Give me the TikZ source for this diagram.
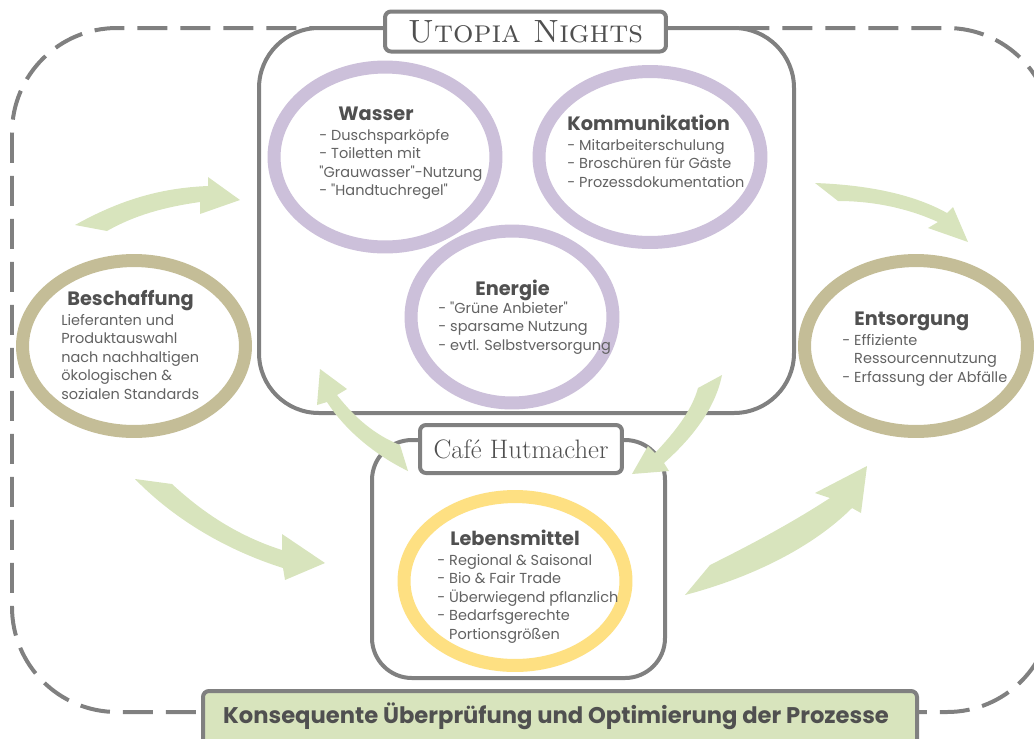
\documentclass[tikz,border=0pt]{standalone}
\usepackage{fontspec}
\newfontfamily\gothic{Poppins}
\usetikzlibrary{shapes.geometric}
\definecolor{rahmengrau}{RGB}{128,128,128}
\definecolor{lavendel}{RGB}{204,192,218}
\definecolor{khaki}{RGB}{196,189,151}
\definecolor{gelb}{RGB}{254,224,130}
\definecolor{pfeilgruen}{RGB}{216,228,189}
\definecolor{titelgrau}{RGB}{80,80,80}
\definecolor{textgrau}{RGB}{98,98,98}
\newcommand{\punkte}[4]{% {name}{x}{y}{zeilen}
	\foreach \zeile [count=\n] in {#4}
		\node[punkt, anchor=base west] (#1-\n) at (#2, {#3+18.5*(\n-1)}) {\zeile};
}
\begin{document}
\begin{tikzpicture}[x=0.02cm, y=-0.02cm,
	rahmen/.style={draw=rahmengrau, line width=0.08cm},
	ring/.style={ellipse, draw=#1, line width=0.26cm, inner sep=0pt},
	kasten/.style={rahmen, fill=white, rounded corners=0.12cm, inner sep=0pt, text=titelgrau},
	titel/.style={anchor=base west, inner sep=0pt, text=titelgrau, font=\gothic\bfseries\fontsize{11}{13}\selectfont},
	punkt/.style={inner sep=0pt, text=textgrau, font=\gothic\fontsize{8.25}{10}\selectfont},
	pfeil/.style={fill=pfeilgruen, draw=none}]

	\useasboundingbox (0,0) rectangle (1034,738);
	\clip (0,0) rectangle (1034,738);

	% gestrichelter Kreislauf
	\draw[rahmen, dash pattern=on 0.6cm off 0.26cm, rounded corners=2.1cm] (12,28) rectangle (1052,712);

	% Utopia Nights
	\draw[rahmen, fill=white, rounded corners=1.2cm] (259,28) rectangle (794,413);
	\node[ring=lavendel, minimum width=4.44cm, minimum height=3.6cm] (wasser) at (385,157) {};
	\node[ring=lavendel, minimum width=4.44cm, minimum height=3.42cm] (kommunikation) at (650,157) {};
	\node[ring=lavendel, minimum width=4.04cm, minimum height=3.44cm] (energie) at (512,317) {};
	\node[kasten, minimum width=5.62cm, minimum height=0.8cm] (utopia) at (525.5,31.5)
		{\fontsize{18.3}{20}\selectfont\textsc{Utopia Nights}};

	% Beschaffung und Entsorgung
	\node[ring=khaki, minimum width=4.46cm, minimum height=3.42cm] (beschaffung) at (134,346) {};
	\node[ring=khaki, minimum width=4.46cm, minimum height=3.42cm] (entsorgung) at (916,346) {};

	% Cafe Hutmacher
	\draw[rahmen, fill=white, rounded corners=0.8cm] (372,440) rectangle (665,678);
	\node[ring=gelb, minimum width=4.44cm, minimum height=3.38cm] (lebensmittel) at (515,581) {};
	\node[kasten, minimum width=4.04cm, minimum height=0.96cm] (cafe) at (521,449)
		{\fontsize{15.2}{17}\selectfont Café Hutmacher};

	% Ueberpruefung
	\draw[rahmen, fill=pfeilgruen, rounded corners=0.12cm] (203,691) rectangle (917,760);
	\node[anchor=base, inner sep=0pt, text=titelgrau, font=\gothic\bfseries\fontsize{12.9}{15}\selectfont] (pruefung) at (556,723)
		{Konsequente Überprüfung und Optimierung der Prozesse};

	% Texte
	\node[titel] (wasserT) at (338,120) {Wasser};
	\punkte{wasserL}{319}{140}{{- Duschsparköpfe},{- Toiletten mit},{"Grauwasser"-Nutzung},{- "Handtuchregel"}}
	\node[titel] (kommT) at (567,130) {Kommunikation};
	\punkte{kommL}{567}{150}{{- Mitarbeiterschulung},{- Broschüren für Gäste},{- Prozessdokumentation}}
	\node[titel] (energieT) at (475,295) {Energie};
	\punkte{energieL}{438}{313}{{- "Grüne Anbieter"},{- sparsame Nutzung},{- evtl. Selbstversorgung}}
	\node[titel] (beschT) at (67,305) {Beschaffung};
	\punkte{beschL}{61}{325}{{Lieferanten und},{Produktauswahl},{nach nachhaltigen},{ökologischen \&},{sozialen Standards}}
	\node[titel] (entsT) at (854,325) {Entsorgung};
	\punkte{entsL}{842}{345}{{- Effiziente},{\phantom{-} Ressourcennutzung},{- Erfassung der Abfälle}}
	\node[titel] (lebenT) at (450,545) {Lebensmittel};
	\punkte{lebenL}{437}{565}{{- Regional \& Saisonal},{- Bio \& Fair Trade},{- Überwiegend pflanzlich},{- Bedarfsgerechte},{\phantom{-} Portionsgrößen}}

	% Pfeile
	\fill[pfeil] (75,225) .. controls (120,200) and (160,188) .. (208,186) -- (208,177) -- (240,200) -- (200,214) -- (200,202) .. controls (165,207) and (135,215) .. (107,231) -- cycle;
	\fill[pfeil] (135,479) .. controls (170,515) and (220,548) .. (283,568) -- (285,580) -- (325,563) -- (282,534) -- (282,550) .. controls (235,535) and (200,510) .. (172,484) -- cycle;
	\fill[pfeil] (815,183) .. controls (870,185) and (915,195) .. (947,213) -- (953,207) -- (968,242) -- (928,228) -- (938,222) .. controls (905,207) and (870,201) .. (838,201) -- cycle;
	\fill[pfeil] (685,595) .. controls (750,578) and (812,548) .. (852,508) -- (861,513) -- (867,466) -- (815,493) -- (830,498) .. controls (790,524) and (750,545) .. (710,565) -- cycle;
	\fill[pfeil] (408,471) .. controls (375,455) and (345,430) .. (327,402) -- (317,405) -- (320,369) -- (347,389) -- (337,395) .. controls (355,418) and (375,435) .. (400,445) -- cycle;
	\fill[pfeil] (722,375) .. controls (715,410) and (690,440) .. (664,463) -- (669,471) -- (632,474) -- (648,446) -- (655,453) .. controls (675,432) and (692,410) .. (698,388) -- cycle;
\end{tikzpicture}
\end{document}
